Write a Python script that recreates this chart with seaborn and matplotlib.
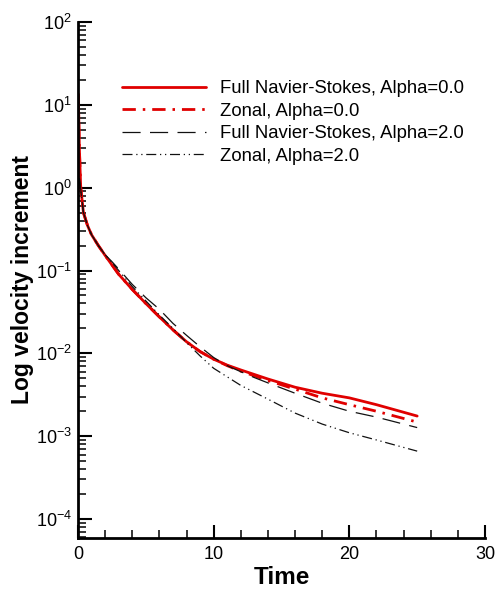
import matplotlib
matplotlib.use("Agg")
import matplotlib.pyplot as plt
from matplotlib.ticker import FixedLocator, LogLocator, MultipleLocator, NullFormatter
import pandas as pd
import seaborn as sns

# Full Navier-Stokes, Alpha=0.0
t_fns0 = [0.02, 0.1, 0.2, 0.4, 0.7, 1.0, 1.5, 2.0, 2.5, 3, 4, 5, 6, 7, 8, 9, 10, 11, 12, 14, 16, 18, 20, 22, 25]
v_fns0 = [13.5, 3.0, 1.0, 0.5, 0.35, 0.27, 0.2, 0.152, 0.117, 0.09, 0.059, 0.04, 0.0275, 0.0192, 0.0138,
          0.0105, 0.0085, 0.0072, 0.0063, 0.0049, 0.0039, 0.0033, 0.0029, 0.0024, 0.00175]
# Zonal, Alpha=0.0
t_zon0 = [0.02, 0.1, 0.2, 0.4, 0.7, 1.0, 1.5, 2.0, 2.5, 3, 4, 5, 6, 7, 8, 9, 10, 11, 12, 14, 16, 18, 20, 22, 25]
v_zon0 = [13.5, 3.0, 1.0, 0.5, 0.35, 0.27, 0.2, 0.152, 0.117, 0.09, 0.059, 0.04, 0.0275, 0.0192, 0.0138,
          0.0105, 0.0085, 0.0071, 0.0061, 0.0047, 0.0037, 0.0029, 0.0024, 0.0020, 0.00148]
# Full Navier-Stokes, Alpha=2.0
t_fns2 = [0.1, 0.2, 0.4, 0.7, 1.0, 1.5, 2.0, 2.5, 3, 4, 5, 6, 7, 8, 9, 10, 11, 12, 13, 14, 16, 18, 20, 22, 25]
v_fns2 = [1.3, 0.95, 0.5, 0.35, 0.27, 0.2, 0.155, 0.128, 0.104, 0.068, 0.047, 0.034, 0.023, 0.0165, 0.012,
          0.0089, 0.0071, 0.006, 0.0051, 0.0044, 0.0033, 0.0025, 0.0020, 0.0017, 0.00127]
# Zonal, Alpha=2.0
t_zon2 = [0.1, 0.2, 0.4, 0.7, 1.0, 1.5, 2.0, 2.5, 3, 4, 5, 6, 7, 8, 9, 10, 11, 12, 14, 16, 18, 20, 22, 25]
v_zon2 = [1.3, 0.95, 0.5, 0.35, 0.27, 0.2, 0.155, 0.125, 0.1, 0.064, 0.043, 0.029, 0.02, 0.0135, 0.0093,
          0.0066, 0.0052, 0.0041, 0.0028, 0.0019, 0.0014, 0.0011, 0.0009, 0.00066]

labels = [
    "Full Navier-Stokes, Alpha=0.0",
    "Zonal, Alpha=0.0",
    "Full Navier-Stokes, Alpha=2.0",
    "Zonal, Alpha=2.0",
]
y_ticks = [1e-4, 1e-3, 1e-2, 1e-1, 1e0, 1e1, 1e2]
y_tick_labels = [r"$\mathregular{10^{-4}}$", r"$\mathregular{10^{-3}}$", r"$\mathregular{10^{-2}}$",
                 r"$\mathregular{10^{-1}}$", r"$\mathregular{10^{0}}$", r"$\mathregular{10^{1}}$",
                 r"$\mathregular{10^{2}}$"]
x_ticks = [0, 10, 20, 30]

sns.set_theme(style="white")
plt.rcParams["font.family"] = ["Liberation Sans", "DejaVu Sans"]
plt.rcParams["mathtext.fontset"] = "custom"
plt.rcParams["mathtext.rm"] = "Liberation Sans"
plt.rcParams["text.color"] = "black"
plt.rcParams["axes.labelcolor"] = "black"

fig = plt.figure(figsize=(4.99, 5.92), dpi=100)
ax = fig.add_axes([78 / 499, 54 / 592, 407 / 499, 516 / 592])

series = [
    (t_fns0, v_fns0, "#e00000", 2.0, "-"),
    (t_zon0, v_zon0, "#e00000", 2.0, (0, (4.8, 2.5, 0.9, 2.5))),
    (t_fns2, v_fns2, "#111111", 0.9, (0, (14.5, 7.5))),
    (t_zon2, v_zon2, "#111111", 0.9, (0, (8, 3, 1, 3, 1, 3))),
]
for (t, v, color, lw, ls), label in zip(series, labels):
    df = pd.DataFrame({"Time": t, "value": v})
    sns.lineplot(data=df, x="Time", y="value", color=color, linewidth=lw,
                 linestyle=ls, label=label, ax=ax)

ax.set_yscale("log")
ax.set_xlim(0, 30)
ax.set_ylim(5.9e-5, 100)
ax.xaxis.set_major_locator(FixedLocator(x_ticks))
ax.xaxis.set_minor_locator(MultipleLocator(2))
ax.set_xticklabels([str(x) for x in x_ticks])
ax.yaxis.set_major_locator(FixedLocator(y_ticks))
ax.set_yticklabels(y_tick_labels)
ax.yaxis.set_minor_locator(LogLocator(base=10, subs=range(2, 10), numticks=20))
ax.yaxis.set_minor_formatter(NullFormatter())

for side in ["top", "right"]:
    ax.spines[side].set_visible(False)
for side in ["left", "bottom"]:
    ax.spines[side].set_linewidth(2.0)
    ax.spines[side].set_color("black")

ax.tick_params(which="both", direction="in", colors="black", labelsize=13)
ax.tick_params(which="major", width=1.5)
ax.tick_params(which="minor", width=1.1)
ax.tick_params(axis="y", which="major", length=10, pad=4.3, left=True)
ax.tick_params(axis="y", which="minor", length=5.5, left=True)
ax.tick_params(axis="x", which="major", length=9.5, pad=5.7, bottom=True)
ax.tick_params(axis="x", which="minor", length=5.5, bottom=True)

ax.set_xlabel("Time", fontsize=17.5, fontweight="bold", labelpad=2)
ax.set_ylabel("Log velocity increment", fontsize=16.5, fontweight="bold")
ax.yaxis.set_label_coords(-0.108, 0.5)

ax.legend(loc="upper left", bbox_to_anchor=(122 / 499, 1 - 80 / 592), bbox_transform=fig.transFigure,
          frameon=False, fontsize=13.3, handlelength=4.55, handletextpad=0.76, labelspacing=0.3,
          borderpad=0, borderaxespad=0)

fig.savefig("out.png", dpi=100)
